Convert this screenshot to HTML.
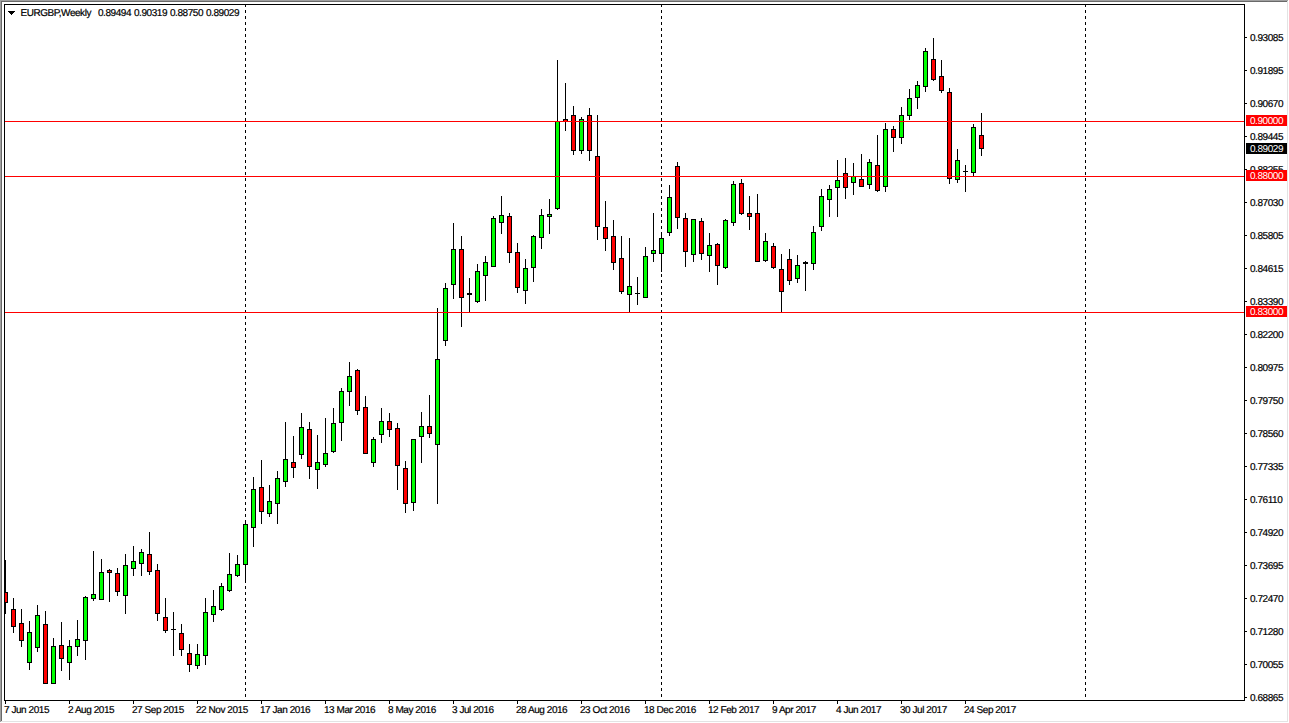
<!DOCTYPE html>
<html><head><meta charset="utf-8"><style>
html,body{margin:0;padding:0;background:#fff;}
body{width:1289px;height:723px;overflow:hidden;}
svg{display:block;}
text{font-family:"Liberation Sans",sans-serif;font-size:10px;fill:#000;letter-spacing:-0.45px;text-rendering:geometricPrecision;stroke:#000;stroke-width:0.2px;}
</style></head><body>
<svg width="1289" height="723" viewBox="0 0 1289 723">
<rect x="0" y="0" width="1289" height="723" fill="#fff"/>
<g shape-rendering="crispEdges">
<rect x="0" y="0" width="1288" height="1" fill="#a0a0a0"/>
<rect x="0" y="0" width="1" height="722" fill="#a0a0a0"/>
<rect x="1" y="1" width="1286" height="1" fill="#696969"/>
<rect x="1" y="1" width="1" height="720" fill="#696969"/>
<rect x="1" y="721" width="1287" height="1" fill="#e3e3e3"/>
<rect x="1287" y="1" width="1" height="721" fill="#e3e3e3"/>
<rect x="4" y="4" width="1241" height="1" fill="#000"/>
<rect x="4" y="4" width="1" height="697" fill="#000"/>
<rect x="4" y="700" width="1241" height="1" fill="#000"/>
<rect x="1244" y="4" width="1" height="697" fill="#000"/>
<rect x="245" y="5" width="1" height="2" fill="#000"/>
<rect x="245" y="10" width="1" height="3" fill="#000"/>
<rect x="245" y="16" width="1" height="3" fill="#000"/>
<rect x="245" y="22" width="1" height="3" fill="#000"/>
<rect x="245" y="28" width="1" height="3" fill="#000"/>
<rect x="245" y="34" width="1" height="3" fill="#000"/>
<rect x="245" y="40" width="1" height="3" fill="#000"/>
<rect x="245" y="46" width="1" height="3" fill="#000"/>
<rect x="245" y="52" width="1" height="3" fill="#000"/>
<rect x="245" y="58" width="1" height="3" fill="#000"/>
<rect x="245" y="64" width="1" height="3" fill="#000"/>
<rect x="245" y="70" width="1" height="3" fill="#000"/>
<rect x="245" y="76" width="1" height="3" fill="#000"/>
<rect x="245" y="82" width="1" height="3" fill="#000"/>
<rect x="245" y="88" width="1" height="3" fill="#000"/>
<rect x="245" y="94" width="1" height="3" fill="#000"/>
<rect x="245" y="100" width="1" height="3" fill="#000"/>
<rect x="245" y="106" width="1" height="3" fill="#000"/>
<rect x="245" y="112" width="1" height="3" fill="#000"/>
<rect x="245" y="118" width="1" height="3" fill="#000"/>
<rect x="245" y="124" width="1" height="3" fill="#000"/>
<rect x="245" y="130" width="1" height="3" fill="#000"/>
<rect x="245" y="136" width="1" height="3" fill="#000"/>
<rect x="245" y="142" width="1" height="3" fill="#000"/>
<rect x="245" y="148" width="1" height="3" fill="#000"/>
<rect x="245" y="154" width="1" height="3" fill="#000"/>
<rect x="245" y="160" width="1" height="3" fill="#000"/>
<rect x="245" y="166" width="1" height="3" fill="#000"/>
<rect x="245" y="172" width="1" height="3" fill="#000"/>
<rect x="245" y="178" width="1" height="3" fill="#000"/>
<rect x="245" y="184" width="1" height="3" fill="#000"/>
<rect x="245" y="190" width="1" height="3" fill="#000"/>
<rect x="245" y="196" width="1" height="3" fill="#000"/>
<rect x="245" y="202" width="1" height="3" fill="#000"/>
<rect x="245" y="208" width="1" height="3" fill="#000"/>
<rect x="245" y="214" width="1" height="3" fill="#000"/>
<rect x="245" y="220" width="1" height="3" fill="#000"/>
<rect x="245" y="226" width="1" height="3" fill="#000"/>
<rect x="245" y="232" width="1" height="3" fill="#000"/>
<rect x="245" y="238" width="1" height="3" fill="#000"/>
<rect x="245" y="244" width="1" height="3" fill="#000"/>
<rect x="245" y="250" width="1" height="3" fill="#000"/>
<rect x="245" y="256" width="1" height="3" fill="#000"/>
<rect x="245" y="262" width="1" height="3" fill="#000"/>
<rect x="245" y="268" width="1" height="3" fill="#000"/>
<rect x="245" y="274" width="1" height="3" fill="#000"/>
<rect x="245" y="280" width="1" height="3" fill="#000"/>
<rect x="245" y="286" width="1" height="3" fill="#000"/>
<rect x="245" y="292" width="1" height="3" fill="#000"/>
<rect x="245" y="298" width="1" height="3" fill="#000"/>
<rect x="245" y="304" width="1" height="3" fill="#000"/>
<rect x="245" y="310" width="1" height="3" fill="#000"/>
<rect x="245" y="316" width="1" height="3" fill="#000"/>
<rect x="245" y="322" width="1" height="3" fill="#000"/>
<rect x="245" y="328" width="1" height="3" fill="#000"/>
<rect x="245" y="334" width="1" height="3" fill="#000"/>
<rect x="245" y="340" width="1" height="3" fill="#000"/>
<rect x="245" y="346" width="1" height="3" fill="#000"/>
<rect x="245" y="352" width="1" height="3" fill="#000"/>
<rect x="245" y="358" width="1" height="3" fill="#000"/>
<rect x="245" y="364" width="1" height="3" fill="#000"/>
<rect x="245" y="370" width="1" height="3" fill="#000"/>
<rect x="245" y="376" width="1" height="3" fill="#000"/>
<rect x="245" y="382" width="1" height="3" fill="#000"/>
<rect x="245" y="388" width="1" height="3" fill="#000"/>
<rect x="245" y="394" width="1" height="3" fill="#000"/>
<rect x="245" y="400" width="1" height="3" fill="#000"/>
<rect x="245" y="406" width="1" height="3" fill="#000"/>
<rect x="245" y="412" width="1" height="3" fill="#000"/>
<rect x="245" y="418" width="1" height="3" fill="#000"/>
<rect x="245" y="424" width="1" height="3" fill="#000"/>
<rect x="245" y="430" width="1" height="3" fill="#000"/>
<rect x="245" y="436" width="1" height="3" fill="#000"/>
<rect x="245" y="442" width="1" height="3" fill="#000"/>
<rect x="245" y="448" width="1" height="3" fill="#000"/>
<rect x="245" y="454" width="1" height="3" fill="#000"/>
<rect x="245" y="460" width="1" height="3" fill="#000"/>
<rect x="245" y="466" width="1" height="3" fill="#000"/>
<rect x="245" y="472" width="1" height="3" fill="#000"/>
<rect x="245" y="478" width="1" height="3" fill="#000"/>
<rect x="245" y="484" width="1" height="3" fill="#000"/>
<rect x="245" y="490" width="1" height="3" fill="#000"/>
<rect x="245" y="496" width="1" height="3" fill="#000"/>
<rect x="245" y="502" width="1" height="3" fill="#000"/>
<rect x="245" y="508" width="1" height="3" fill="#000"/>
<rect x="245" y="514" width="1" height="3" fill="#000"/>
<rect x="245" y="520" width="1" height="3" fill="#000"/>
<rect x="245" y="526" width="1" height="3" fill="#000"/>
<rect x="245" y="532" width="1" height="3" fill="#000"/>
<rect x="245" y="538" width="1" height="3" fill="#000"/>
<rect x="245" y="544" width="1" height="3" fill="#000"/>
<rect x="245" y="550" width="1" height="3" fill="#000"/>
<rect x="245" y="556" width="1" height="3" fill="#000"/>
<rect x="245" y="562" width="1" height="3" fill="#000"/>
<rect x="245" y="568" width="1" height="3" fill="#000"/>
<rect x="245" y="574" width="1" height="3" fill="#000"/>
<rect x="245" y="580" width="1" height="3" fill="#000"/>
<rect x="245" y="586" width="1" height="3" fill="#000"/>
<rect x="245" y="592" width="1" height="3" fill="#000"/>
<rect x="245" y="598" width="1" height="3" fill="#000"/>
<rect x="245" y="604" width="1" height="3" fill="#000"/>
<rect x="245" y="610" width="1" height="3" fill="#000"/>
<rect x="245" y="616" width="1" height="3" fill="#000"/>
<rect x="245" y="622" width="1" height="3" fill="#000"/>
<rect x="245" y="628" width="1" height="3" fill="#000"/>
<rect x="245" y="634" width="1" height="3" fill="#000"/>
<rect x="245" y="640" width="1" height="3" fill="#000"/>
<rect x="245" y="646" width="1" height="3" fill="#000"/>
<rect x="245" y="652" width="1" height="3" fill="#000"/>
<rect x="245" y="658" width="1" height="3" fill="#000"/>
<rect x="245" y="664" width="1" height="3" fill="#000"/>
<rect x="245" y="670" width="1" height="3" fill="#000"/>
<rect x="245" y="676" width="1" height="3" fill="#000"/>
<rect x="245" y="682" width="1" height="3" fill="#000"/>
<rect x="245" y="688" width="1" height="3" fill="#000"/>
<rect x="245" y="694" width="1" height="3" fill="#000"/>
<rect x="661" y="5" width="1" height="2" fill="#000"/>
<rect x="661" y="10" width="1" height="3" fill="#000"/>
<rect x="661" y="16" width="1" height="3" fill="#000"/>
<rect x="661" y="22" width="1" height="3" fill="#000"/>
<rect x="661" y="28" width="1" height="3" fill="#000"/>
<rect x="661" y="34" width="1" height="3" fill="#000"/>
<rect x="661" y="40" width="1" height="3" fill="#000"/>
<rect x="661" y="46" width="1" height="3" fill="#000"/>
<rect x="661" y="52" width="1" height="3" fill="#000"/>
<rect x="661" y="58" width="1" height="3" fill="#000"/>
<rect x="661" y="64" width="1" height="3" fill="#000"/>
<rect x="661" y="70" width="1" height="3" fill="#000"/>
<rect x="661" y="76" width="1" height="3" fill="#000"/>
<rect x="661" y="82" width="1" height="3" fill="#000"/>
<rect x="661" y="88" width="1" height="3" fill="#000"/>
<rect x="661" y="94" width="1" height="3" fill="#000"/>
<rect x="661" y="100" width="1" height="3" fill="#000"/>
<rect x="661" y="106" width="1" height="3" fill="#000"/>
<rect x="661" y="112" width="1" height="3" fill="#000"/>
<rect x="661" y="118" width="1" height="3" fill="#000"/>
<rect x="661" y="124" width="1" height="3" fill="#000"/>
<rect x="661" y="130" width="1" height="3" fill="#000"/>
<rect x="661" y="136" width="1" height="3" fill="#000"/>
<rect x="661" y="142" width="1" height="3" fill="#000"/>
<rect x="661" y="148" width="1" height="3" fill="#000"/>
<rect x="661" y="154" width="1" height="3" fill="#000"/>
<rect x="661" y="160" width="1" height="3" fill="#000"/>
<rect x="661" y="166" width="1" height="3" fill="#000"/>
<rect x="661" y="172" width="1" height="3" fill="#000"/>
<rect x="661" y="178" width="1" height="3" fill="#000"/>
<rect x="661" y="184" width="1" height="3" fill="#000"/>
<rect x="661" y="190" width="1" height="3" fill="#000"/>
<rect x="661" y="196" width="1" height="3" fill="#000"/>
<rect x="661" y="202" width="1" height="3" fill="#000"/>
<rect x="661" y="208" width="1" height="3" fill="#000"/>
<rect x="661" y="214" width="1" height="3" fill="#000"/>
<rect x="661" y="220" width="1" height="3" fill="#000"/>
<rect x="661" y="226" width="1" height="3" fill="#000"/>
<rect x="661" y="232" width="1" height="3" fill="#000"/>
<rect x="661" y="238" width="1" height="3" fill="#000"/>
<rect x="661" y="244" width="1" height="3" fill="#000"/>
<rect x="661" y="250" width="1" height="3" fill="#000"/>
<rect x="661" y="256" width="1" height="3" fill="#000"/>
<rect x="661" y="262" width="1" height="3" fill="#000"/>
<rect x="661" y="268" width="1" height="3" fill="#000"/>
<rect x="661" y="274" width="1" height="3" fill="#000"/>
<rect x="661" y="280" width="1" height="3" fill="#000"/>
<rect x="661" y="286" width="1" height="3" fill="#000"/>
<rect x="661" y="292" width="1" height="3" fill="#000"/>
<rect x="661" y="298" width="1" height="3" fill="#000"/>
<rect x="661" y="304" width="1" height="3" fill="#000"/>
<rect x="661" y="310" width="1" height="3" fill="#000"/>
<rect x="661" y="316" width="1" height="3" fill="#000"/>
<rect x="661" y="322" width="1" height="3" fill="#000"/>
<rect x="661" y="328" width="1" height="3" fill="#000"/>
<rect x="661" y="334" width="1" height="3" fill="#000"/>
<rect x="661" y="340" width="1" height="3" fill="#000"/>
<rect x="661" y="346" width="1" height="3" fill="#000"/>
<rect x="661" y="352" width="1" height="3" fill="#000"/>
<rect x="661" y="358" width="1" height="3" fill="#000"/>
<rect x="661" y="364" width="1" height="3" fill="#000"/>
<rect x="661" y="370" width="1" height="3" fill="#000"/>
<rect x="661" y="376" width="1" height="3" fill="#000"/>
<rect x="661" y="382" width="1" height="3" fill="#000"/>
<rect x="661" y="388" width="1" height="3" fill="#000"/>
<rect x="661" y="394" width="1" height="3" fill="#000"/>
<rect x="661" y="400" width="1" height="3" fill="#000"/>
<rect x="661" y="406" width="1" height="3" fill="#000"/>
<rect x="661" y="412" width="1" height="3" fill="#000"/>
<rect x="661" y="418" width="1" height="3" fill="#000"/>
<rect x="661" y="424" width="1" height="3" fill="#000"/>
<rect x="661" y="430" width="1" height="3" fill="#000"/>
<rect x="661" y="436" width="1" height="3" fill="#000"/>
<rect x="661" y="442" width="1" height="3" fill="#000"/>
<rect x="661" y="448" width="1" height="3" fill="#000"/>
<rect x="661" y="454" width="1" height="3" fill="#000"/>
<rect x="661" y="460" width="1" height="3" fill="#000"/>
<rect x="661" y="466" width="1" height="3" fill="#000"/>
<rect x="661" y="472" width="1" height="3" fill="#000"/>
<rect x="661" y="478" width="1" height="3" fill="#000"/>
<rect x="661" y="484" width="1" height="3" fill="#000"/>
<rect x="661" y="490" width="1" height="3" fill="#000"/>
<rect x="661" y="496" width="1" height="3" fill="#000"/>
<rect x="661" y="502" width="1" height="3" fill="#000"/>
<rect x="661" y="508" width="1" height="3" fill="#000"/>
<rect x="661" y="514" width="1" height="3" fill="#000"/>
<rect x="661" y="520" width="1" height="3" fill="#000"/>
<rect x="661" y="526" width="1" height="3" fill="#000"/>
<rect x="661" y="532" width="1" height="3" fill="#000"/>
<rect x="661" y="538" width="1" height="3" fill="#000"/>
<rect x="661" y="544" width="1" height="3" fill="#000"/>
<rect x="661" y="550" width="1" height="3" fill="#000"/>
<rect x="661" y="556" width="1" height="3" fill="#000"/>
<rect x="661" y="562" width="1" height="3" fill="#000"/>
<rect x="661" y="568" width="1" height="3" fill="#000"/>
<rect x="661" y="574" width="1" height="3" fill="#000"/>
<rect x="661" y="580" width="1" height="3" fill="#000"/>
<rect x="661" y="586" width="1" height="3" fill="#000"/>
<rect x="661" y="592" width="1" height="3" fill="#000"/>
<rect x="661" y="598" width="1" height="3" fill="#000"/>
<rect x="661" y="604" width="1" height="3" fill="#000"/>
<rect x="661" y="610" width="1" height="3" fill="#000"/>
<rect x="661" y="616" width="1" height="3" fill="#000"/>
<rect x="661" y="622" width="1" height="3" fill="#000"/>
<rect x="661" y="628" width="1" height="3" fill="#000"/>
<rect x="661" y="634" width="1" height="3" fill="#000"/>
<rect x="661" y="640" width="1" height="3" fill="#000"/>
<rect x="661" y="646" width="1" height="3" fill="#000"/>
<rect x="661" y="652" width="1" height="3" fill="#000"/>
<rect x="661" y="658" width="1" height="3" fill="#000"/>
<rect x="661" y="664" width="1" height="3" fill="#000"/>
<rect x="661" y="670" width="1" height="3" fill="#000"/>
<rect x="661" y="676" width="1" height="3" fill="#000"/>
<rect x="661" y="682" width="1" height="3" fill="#000"/>
<rect x="661" y="688" width="1" height="3" fill="#000"/>
<rect x="661" y="694" width="1" height="3" fill="#000"/>
<rect x="1085" y="5" width="1" height="2" fill="#000"/>
<rect x="1085" y="10" width="1" height="3" fill="#000"/>
<rect x="1085" y="16" width="1" height="3" fill="#000"/>
<rect x="1085" y="22" width="1" height="3" fill="#000"/>
<rect x="1085" y="28" width="1" height="3" fill="#000"/>
<rect x="1085" y="34" width="1" height="3" fill="#000"/>
<rect x="1085" y="40" width="1" height="3" fill="#000"/>
<rect x="1085" y="46" width="1" height="3" fill="#000"/>
<rect x="1085" y="52" width="1" height="3" fill="#000"/>
<rect x="1085" y="58" width="1" height="3" fill="#000"/>
<rect x="1085" y="64" width="1" height="3" fill="#000"/>
<rect x="1085" y="70" width="1" height="3" fill="#000"/>
<rect x="1085" y="76" width="1" height="3" fill="#000"/>
<rect x="1085" y="82" width="1" height="3" fill="#000"/>
<rect x="1085" y="88" width="1" height="3" fill="#000"/>
<rect x="1085" y="94" width="1" height="3" fill="#000"/>
<rect x="1085" y="100" width="1" height="3" fill="#000"/>
<rect x="1085" y="106" width="1" height="3" fill="#000"/>
<rect x="1085" y="112" width="1" height="3" fill="#000"/>
<rect x="1085" y="118" width="1" height="3" fill="#000"/>
<rect x="1085" y="124" width="1" height="3" fill="#000"/>
<rect x="1085" y="130" width="1" height="3" fill="#000"/>
<rect x="1085" y="136" width="1" height="3" fill="#000"/>
<rect x="1085" y="142" width="1" height="3" fill="#000"/>
<rect x="1085" y="148" width="1" height="3" fill="#000"/>
<rect x="1085" y="154" width="1" height="3" fill="#000"/>
<rect x="1085" y="160" width="1" height="3" fill="#000"/>
<rect x="1085" y="166" width="1" height="3" fill="#000"/>
<rect x="1085" y="172" width="1" height="3" fill="#000"/>
<rect x="1085" y="178" width="1" height="3" fill="#000"/>
<rect x="1085" y="184" width="1" height="3" fill="#000"/>
<rect x="1085" y="190" width="1" height="3" fill="#000"/>
<rect x="1085" y="196" width="1" height="3" fill="#000"/>
<rect x="1085" y="202" width="1" height="3" fill="#000"/>
<rect x="1085" y="208" width="1" height="3" fill="#000"/>
<rect x="1085" y="214" width="1" height="3" fill="#000"/>
<rect x="1085" y="220" width="1" height="3" fill="#000"/>
<rect x="1085" y="226" width="1" height="3" fill="#000"/>
<rect x="1085" y="232" width="1" height="3" fill="#000"/>
<rect x="1085" y="238" width="1" height="3" fill="#000"/>
<rect x="1085" y="244" width="1" height="3" fill="#000"/>
<rect x="1085" y="250" width="1" height="3" fill="#000"/>
<rect x="1085" y="256" width="1" height="3" fill="#000"/>
<rect x="1085" y="262" width="1" height="3" fill="#000"/>
<rect x="1085" y="268" width="1" height="3" fill="#000"/>
<rect x="1085" y="274" width="1" height="3" fill="#000"/>
<rect x="1085" y="280" width="1" height="3" fill="#000"/>
<rect x="1085" y="286" width="1" height="3" fill="#000"/>
<rect x="1085" y="292" width="1" height="3" fill="#000"/>
<rect x="1085" y="298" width="1" height="3" fill="#000"/>
<rect x="1085" y="304" width="1" height="3" fill="#000"/>
<rect x="1085" y="310" width="1" height="3" fill="#000"/>
<rect x="1085" y="316" width="1" height="3" fill="#000"/>
<rect x="1085" y="322" width="1" height="3" fill="#000"/>
<rect x="1085" y="328" width="1" height="3" fill="#000"/>
<rect x="1085" y="334" width="1" height="3" fill="#000"/>
<rect x="1085" y="340" width="1" height="3" fill="#000"/>
<rect x="1085" y="346" width="1" height="3" fill="#000"/>
<rect x="1085" y="352" width="1" height="3" fill="#000"/>
<rect x="1085" y="358" width="1" height="3" fill="#000"/>
<rect x="1085" y="364" width="1" height="3" fill="#000"/>
<rect x="1085" y="370" width="1" height="3" fill="#000"/>
<rect x="1085" y="376" width="1" height="3" fill="#000"/>
<rect x="1085" y="382" width="1" height="3" fill="#000"/>
<rect x="1085" y="388" width="1" height="3" fill="#000"/>
<rect x="1085" y="394" width="1" height="3" fill="#000"/>
<rect x="1085" y="400" width="1" height="3" fill="#000"/>
<rect x="1085" y="406" width="1" height="3" fill="#000"/>
<rect x="1085" y="412" width="1" height="3" fill="#000"/>
<rect x="1085" y="418" width="1" height="3" fill="#000"/>
<rect x="1085" y="424" width="1" height="3" fill="#000"/>
<rect x="1085" y="430" width="1" height="3" fill="#000"/>
<rect x="1085" y="436" width="1" height="3" fill="#000"/>
<rect x="1085" y="442" width="1" height="3" fill="#000"/>
<rect x="1085" y="448" width="1" height="3" fill="#000"/>
<rect x="1085" y="454" width="1" height="3" fill="#000"/>
<rect x="1085" y="460" width="1" height="3" fill="#000"/>
<rect x="1085" y="466" width="1" height="3" fill="#000"/>
<rect x="1085" y="472" width="1" height="3" fill="#000"/>
<rect x="1085" y="478" width="1" height="3" fill="#000"/>
<rect x="1085" y="484" width="1" height="3" fill="#000"/>
<rect x="1085" y="490" width="1" height="3" fill="#000"/>
<rect x="1085" y="496" width="1" height="3" fill="#000"/>
<rect x="1085" y="502" width="1" height="3" fill="#000"/>
<rect x="1085" y="508" width="1" height="3" fill="#000"/>
<rect x="1085" y="514" width="1" height="3" fill="#000"/>
<rect x="1085" y="520" width="1" height="3" fill="#000"/>
<rect x="1085" y="526" width="1" height="3" fill="#000"/>
<rect x="1085" y="532" width="1" height="3" fill="#000"/>
<rect x="1085" y="538" width="1" height="3" fill="#000"/>
<rect x="1085" y="544" width="1" height="3" fill="#000"/>
<rect x="1085" y="550" width="1" height="3" fill="#000"/>
<rect x="1085" y="556" width="1" height="3" fill="#000"/>
<rect x="1085" y="562" width="1" height="3" fill="#000"/>
<rect x="1085" y="568" width="1" height="3" fill="#000"/>
<rect x="1085" y="574" width="1" height="3" fill="#000"/>
<rect x="1085" y="580" width="1" height="3" fill="#000"/>
<rect x="1085" y="586" width="1" height="3" fill="#000"/>
<rect x="1085" y="592" width="1" height="3" fill="#000"/>
<rect x="1085" y="598" width="1" height="3" fill="#000"/>
<rect x="1085" y="604" width="1" height="3" fill="#000"/>
<rect x="1085" y="610" width="1" height="3" fill="#000"/>
<rect x="1085" y="616" width="1" height="3" fill="#000"/>
<rect x="1085" y="622" width="1" height="3" fill="#000"/>
<rect x="1085" y="628" width="1" height="3" fill="#000"/>
<rect x="1085" y="634" width="1" height="3" fill="#000"/>
<rect x="1085" y="640" width="1" height="3" fill="#000"/>
<rect x="1085" y="646" width="1" height="3" fill="#000"/>
<rect x="1085" y="652" width="1" height="3" fill="#000"/>
<rect x="1085" y="658" width="1" height="3" fill="#000"/>
<rect x="1085" y="664" width="1" height="3" fill="#000"/>
<rect x="1085" y="670" width="1" height="3" fill="#000"/>
<rect x="1085" y="676" width="1" height="3" fill="#000"/>
<rect x="1085" y="682" width="1" height="3" fill="#000"/>
<rect x="1085" y="688" width="1" height="3" fill="#000"/>
<rect x="1085" y="694" width="1" height="3" fill="#000"/>
<rect x="5" y="560" width="1" height="54" fill="#000"/>
<rect x="5" y="592" width="3" height="11" fill="#000"/>
<rect x="5" y="593" width="2" height="9" fill="#ff0000"/>
<rect x="13" y="598" width="1" height="35" fill="#000"/>
<rect x="11" y="609" width="5" height="18" fill="#000"/>
<rect x="12" y="610" width="3" height="16" fill="#ff0000"/>
<rect x="21" y="609" width="1" height="38" fill="#000"/>
<rect x="19" y="623" width="5" height="18" fill="#000"/>
<rect x="20" y="624" width="3" height="16" fill="#ff0000"/>
<rect x="29" y="621" width="1" height="49" fill="#000"/>
<rect x="27" y="632" width="5" height="31" fill="#000"/>
<rect x="28" y="633" width="3" height="29" fill="#00ff00"/>
<rect x="37" y="605" width="1" height="47" fill="#000"/>
<rect x="35" y="615" width="5" height="33" fill="#000"/>
<rect x="36" y="616" width="3" height="31" fill="#00ff00"/>
<rect x="45" y="611" width="1" height="73" fill="#000"/>
<rect x="43" y="624" width="5" height="60" fill="#000"/>
<rect x="44" y="625" width="3" height="58" fill="#ff0000"/>
<rect x="53" y="638" width="1" height="46" fill="#000"/>
<rect x="51" y="646" width="5" height="38" fill="#000"/>
<rect x="52" y="647" width="3" height="36" fill="#00ff00"/>
<rect x="61" y="622" width="1" height="49" fill="#000"/>
<rect x="59" y="645" width="5" height="14" fill="#000"/>
<rect x="60" y="646" width="3" height="12" fill="#ff0000"/>
<rect x="69" y="640" width="1" height="40" fill="#000"/>
<rect x="67" y="646" width="5" height="17" fill="#000"/>
<rect x="68" y="647" width="3" height="15" fill="#00ff00"/>
<rect x="77" y="620" width="1" height="36" fill="#000"/>
<rect x="75" y="639" width="5" height="8" fill="#000"/>
<rect x="76" y="640" width="3" height="6" fill="#00ff00"/>
<rect x="85" y="596" width="1" height="64" fill="#000"/>
<rect x="83" y="597" width="5" height="44" fill="#000"/>
<rect x="84" y="598" width="3" height="42" fill="#00ff00"/>
<rect x="93" y="551" width="1" height="50" fill="#000"/>
<rect x="91" y="594" width="5" height="5" fill="#000"/>
<rect x="92" y="595" width="3" height="3" fill="#00ff00"/>
<rect x="101" y="559" width="1" height="41" fill="#000"/>
<rect x="99" y="572" width="5" height="28" fill="#000"/>
<rect x="100" y="573" width="3" height="26" fill="#00ff00"/>
<rect x="109" y="569" width="1" height="33" fill="#000"/>
<rect x="107" y="570" width="5" height="3" fill="#000"/>
<rect x="108" y="571" width="3" height="1" fill="#ff0000"/>
<rect x="117" y="568" width="1" height="28" fill="#000"/>
<rect x="115" y="573" width="5" height="19" fill="#000"/>
<rect x="116" y="574" width="3" height="17" fill="#ff0000"/>
<rect x="125" y="554" width="1" height="60" fill="#000"/>
<rect x="123" y="565" width="5" height="31" fill="#000"/>
<rect x="124" y="566" width="3" height="29" fill="#00ff00"/>
<rect x="133" y="546" width="1" height="30" fill="#000"/>
<rect x="131" y="561" width="5" height="8" fill="#000"/>
<rect x="132" y="562" width="3" height="6" fill="#00ff00"/>
<rect x="141" y="549" width="1" height="27" fill="#000"/>
<rect x="139" y="552" width="5" height="12" fill="#000"/>
<rect x="140" y="553" width="3" height="10" fill="#00ff00"/>
<rect x="149" y="532" width="1" height="43" fill="#000"/>
<rect x="147" y="554" width="5" height="18" fill="#000"/>
<rect x="148" y="555" width="3" height="16" fill="#ff0000"/>
<rect x="157" y="564" width="1" height="57" fill="#000"/>
<rect x="155" y="570" width="5" height="44" fill="#000"/>
<rect x="156" y="571" width="3" height="42" fill="#ff0000"/>
<rect x="165" y="598" width="1" height="35" fill="#000"/>
<rect x="163" y="617" width="5" height="14" fill="#000"/>
<rect x="164" y="618" width="3" height="12" fill="#ff0000"/>
<rect x="173" y="612" width="1" height="44" fill="#000"/>
<rect x="171" y="629" width="5" height="1" fill="#000"/>
<rect x="181" y="624" width="1" height="32" fill="#000"/>
<rect x="179" y="633" width="5" height="17" fill="#000"/>
<rect x="180" y="634" width="3" height="15" fill="#ff0000"/>
<rect x="189" y="644" width="1" height="28" fill="#000"/>
<rect x="187" y="653" width="5" height="12" fill="#000"/>
<rect x="188" y="654" width="3" height="10" fill="#ff0000"/>
<rect x="197" y="644" width="1" height="25" fill="#000"/>
<rect x="195" y="654" width="5" height="12" fill="#000"/>
<rect x="196" y="655" width="3" height="10" fill="#00ff00"/>
<rect x="205" y="598" width="1" height="67" fill="#000"/>
<rect x="203" y="612" width="5" height="44" fill="#000"/>
<rect x="204" y="613" width="3" height="42" fill="#00ff00"/>
<rect x="213" y="590" width="1" height="32" fill="#000"/>
<rect x="211" y="606" width="5" height="9" fill="#000"/>
<rect x="212" y="607" width="3" height="7" fill="#00ff00"/>
<rect x="221" y="583" width="1" height="28" fill="#000"/>
<rect x="219" y="586" width="5" height="24" fill="#000"/>
<rect x="220" y="587" width="3" height="22" fill="#00ff00"/>
<rect x="229" y="553" width="1" height="39" fill="#000"/>
<rect x="227" y="574" width="5" height="17" fill="#000"/>
<rect x="228" y="575" width="3" height="15" fill="#00ff00"/>
<rect x="237" y="555" width="1" height="22" fill="#000"/>
<rect x="235" y="564" width="5" height="12" fill="#000"/>
<rect x="236" y="565" width="3" height="10" fill="#00ff00"/>
<rect x="245" y="520" width="1" height="63" fill="#000"/>
<rect x="243" y="524" width="5" height="41" fill="#000"/>
<rect x="244" y="525" width="3" height="39" fill="#00ff00"/>
<rect x="253" y="477" width="1" height="70" fill="#000"/>
<rect x="251" y="489" width="5" height="39" fill="#000"/>
<rect x="252" y="490" width="3" height="37" fill="#00ff00"/>
<rect x="261" y="460" width="1" height="64" fill="#000"/>
<rect x="259" y="487" width="5" height="25" fill="#000"/>
<rect x="260" y="488" width="3" height="23" fill="#ff0000"/>
<rect x="269" y="485" width="1" height="32" fill="#000"/>
<rect x="267" y="501" width="5" height="13" fill="#000"/>
<rect x="268" y="502" width="3" height="11" fill="#00ff00"/>
<rect x="277" y="471" width="1" height="53" fill="#000"/>
<rect x="275" y="478" width="5" height="26" fill="#000"/>
<rect x="276" y="479" width="3" height="24" fill="#00ff00"/>
<rect x="285" y="422" width="1" height="65" fill="#000"/>
<rect x="283" y="459" width="5" height="23" fill="#000"/>
<rect x="284" y="460" width="3" height="21" fill="#00ff00"/>
<rect x="293" y="436" width="1" height="42" fill="#000"/>
<rect x="291" y="462" width="5" height="6" fill="#000"/>
<rect x="292" y="463" width="3" height="4" fill="#ff0000"/>
<rect x="301" y="413" width="1" height="46" fill="#000"/>
<rect x="299" y="427" width="5" height="28" fill="#000"/>
<rect x="300" y="428" width="3" height="26" fill="#00ff00"/>
<rect x="309" y="422" width="1" height="57" fill="#000"/>
<rect x="307" y="429" width="5" height="38" fill="#000"/>
<rect x="308" y="430" width="3" height="36" fill="#ff0000"/>
<rect x="317" y="435" width="1" height="54" fill="#000"/>
<rect x="315" y="462" width="5" height="8" fill="#000"/>
<rect x="316" y="463" width="3" height="6" fill="#00ff00"/>
<rect x="325" y="418" width="1" height="49" fill="#000"/>
<rect x="323" y="453" width="5" height="12" fill="#000"/>
<rect x="324" y="454" width="3" height="10" fill="#00ff00"/>
<rect x="333" y="408" width="1" height="45" fill="#000"/>
<rect x="331" y="423" width="5" height="29" fill="#000"/>
<rect x="332" y="424" width="3" height="27" fill="#00ff00"/>
<rect x="341" y="388" width="1" height="53" fill="#000"/>
<rect x="339" y="391" width="5" height="32" fill="#000"/>
<rect x="340" y="392" width="3" height="30" fill="#00ff00"/>
<rect x="349" y="362" width="1" height="44" fill="#000"/>
<rect x="347" y="376" width="5" height="16" fill="#000"/>
<rect x="348" y="377" width="3" height="14" fill="#00ff00"/>
<rect x="357" y="369" width="1" height="46" fill="#000"/>
<rect x="355" y="370" width="5" height="41" fill="#000"/>
<rect x="356" y="371" width="3" height="39" fill="#ff0000"/>
<rect x="365" y="396" width="1" height="58" fill="#000"/>
<rect x="363" y="407" width="5" height="47" fill="#000"/>
<rect x="364" y="408" width="3" height="45" fill="#ff0000"/>
<rect x="373" y="437" width="1" height="30" fill="#000"/>
<rect x="371" y="439" width="5" height="24" fill="#000"/>
<rect x="372" y="440" width="3" height="22" fill="#00ff00"/>
<rect x="381" y="408" width="1" height="35" fill="#000"/>
<rect x="379" y="421" width="5" height="14" fill="#000"/>
<rect x="380" y="422" width="3" height="12" fill="#00ff00"/>
<rect x="389" y="413" width="1" height="24" fill="#000"/>
<rect x="387" y="421" width="5" height="9" fill="#000"/>
<rect x="388" y="422" width="3" height="7" fill="#ff0000"/>
<rect x="397" y="423" width="1" height="67" fill="#000"/>
<rect x="395" y="428" width="5" height="38" fill="#000"/>
<rect x="396" y="429" width="3" height="36" fill="#ff0000"/>
<rect x="405" y="461" width="1" height="52" fill="#000"/>
<rect x="403" y="468" width="5" height="36" fill="#000"/>
<rect x="404" y="469" width="3" height="34" fill="#ff0000"/>
<rect x="413" y="439" width="1" height="72" fill="#000"/>
<rect x="411" y="439" width="5" height="64" fill="#000"/>
<rect x="412" y="440" width="3" height="62" fill="#00ff00"/>
<rect x="421" y="412" width="1" height="51" fill="#000"/>
<rect x="419" y="426" width="5" height="11" fill="#000"/>
<rect x="420" y="427" width="3" height="9" fill="#00ff00"/>
<rect x="429" y="395" width="1" height="43" fill="#000"/>
<rect x="427" y="426" width="5" height="8" fill="#000"/>
<rect x="428" y="427" width="3" height="6" fill="#ff0000"/>
<rect x="437" y="308" width="1" height="196" fill="#000"/>
<rect x="435" y="359" width="5" height="86" fill="#000"/>
<rect x="436" y="360" width="3" height="84" fill="#00ff00"/>
<rect x="445" y="283" width="1" height="63" fill="#000"/>
<rect x="443" y="288" width="5" height="53" fill="#000"/>
<rect x="444" y="289" width="3" height="51" fill="#00ff00"/>
<rect x="453" y="223" width="1" height="76" fill="#000"/>
<rect x="451" y="249" width="5" height="36" fill="#000"/>
<rect x="452" y="250" width="3" height="34" fill="#00ff00"/>
<rect x="461" y="236" width="1" height="91" fill="#000"/>
<rect x="459" y="249" width="5" height="49" fill="#000"/>
<rect x="460" y="250" width="3" height="47" fill="#ff0000"/>
<rect x="469" y="278" width="1" height="35" fill="#000"/>
<rect x="467" y="293" width="5" height="2" fill="#000"/>
<rect x="477" y="264" width="1" height="39" fill="#000"/>
<rect x="475" y="271" width="5" height="31" fill="#000"/>
<rect x="476" y="272" width="3" height="29" fill="#00ff00"/>
<rect x="485" y="256" width="1" height="45" fill="#000"/>
<rect x="483" y="262" width="5" height="14" fill="#000"/>
<rect x="484" y="263" width="3" height="12" fill="#00ff00"/>
<rect x="493" y="216" width="1" height="51" fill="#000"/>
<rect x="491" y="218" width="5" height="49" fill="#000"/>
<rect x="492" y="219" width="3" height="47" fill="#00ff00"/>
<rect x="501" y="196" width="1" height="38" fill="#000"/>
<rect x="499" y="215" width="5" height="8" fill="#000"/>
<rect x="500" y="216" width="3" height="6" fill="#00ff00"/>
<rect x="509" y="213" width="1" height="50" fill="#000"/>
<rect x="507" y="216" width="5" height="37" fill="#000"/>
<rect x="508" y="217" width="3" height="35" fill="#ff0000"/>
<rect x="517" y="243" width="1" height="50" fill="#000"/>
<rect x="515" y="252" width="5" height="36" fill="#000"/>
<rect x="516" y="253" width="3" height="34" fill="#ff0000"/>
<rect x="525" y="259" width="1" height="45" fill="#000"/>
<rect x="523" y="268" width="5" height="23" fill="#000"/>
<rect x="524" y="269" width="3" height="21" fill="#00ff00"/>
<rect x="533" y="235" width="1" height="47" fill="#000"/>
<rect x="531" y="236" width="5" height="32" fill="#000"/>
<rect x="532" y="237" width="3" height="30" fill="#00ff00"/>
<rect x="541" y="209" width="1" height="40" fill="#000"/>
<rect x="539" y="215" width="5" height="23" fill="#000"/>
<rect x="540" y="216" width="3" height="21" fill="#00ff00"/>
<rect x="549" y="199" width="1" height="35" fill="#000"/>
<rect x="547" y="214" width="5" height="3" fill="#000"/>
<rect x="548" y="215" width="3" height="1" fill="#00ff00"/>
<rect x="557" y="60" width="1" height="150" fill="#000"/>
<rect x="555" y="121" width="5" height="88" fill="#000"/>
<rect x="556" y="122" width="3" height="86" fill="#00ff00"/>
<rect x="565" y="83" width="1" height="48" fill="#000"/>
<rect x="563" y="119" width="5" height="3" fill="#000"/>
<rect x="564" y="120" width="3" height="1" fill="#ff0000"/>
<rect x="573" y="106" width="1" height="49" fill="#000"/>
<rect x="571" y="115" width="5" height="36" fill="#000"/>
<rect x="572" y="116" width="3" height="34" fill="#ff0000"/>
<rect x="581" y="117" width="1" height="37" fill="#000"/>
<rect x="579" y="119" width="5" height="32" fill="#000"/>
<rect x="580" y="120" width="3" height="30" fill="#00ff00"/>
<rect x="589" y="108" width="1" height="53" fill="#000"/>
<rect x="587" y="115" width="5" height="36" fill="#000"/>
<rect x="588" y="116" width="3" height="34" fill="#ff0000"/>
<rect x="597" y="115" width="1" height="125" fill="#000"/>
<rect x="595" y="156" width="5" height="71" fill="#000"/>
<rect x="596" y="157" width="3" height="69" fill="#ff0000"/>
<rect x="605" y="201" width="1" height="50" fill="#000"/>
<rect x="603" y="227" width="5" height="12" fill="#000"/>
<rect x="604" y="228" width="3" height="10" fill="#ff0000"/>
<rect x="613" y="220" width="1" height="50" fill="#000"/>
<rect x="611" y="236" width="5" height="27" fill="#000"/>
<rect x="612" y="237" width="3" height="25" fill="#ff0000"/>
<rect x="621" y="236" width="1" height="58" fill="#000"/>
<rect x="619" y="258" width="5" height="34" fill="#000"/>
<rect x="620" y="259" width="3" height="32" fill="#ff0000"/>
<rect x="629" y="238" width="1" height="75" fill="#000"/>
<rect x="627" y="286" width="5" height="9" fill="#000"/>
<rect x="628" y="287" width="3" height="7" fill="#00ff00"/>
<rect x="637" y="277" width="1" height="28" fill="#000"/>
<rect x="635" y="293" width="5" height="1" fill="#000"/>
<rect x="645" y="247" width="1" height="51" fill="#000"/>
<rect x="643" y="256" width="5" height="42" fill="#000"/>
<rect x="644" y="257" width="3" height="40" fill="#00ff00"/>
<rect x="653" y="213" width="1" height="49" fill="#000"/>
<rect x="651" y="250" width="5" height="4" fill="#000"/>
<rect x="652" y="251" width="3" height="2" fill="#00ff00"/>
<rect x="661" y="232" width="1" height="40" fill="#000"/>
<rect x="659" y="238" width="5" height="16" fill="#000"/>
<rect x="660" y="239" width="3" height="14" fill="#00ff00"/>
<rect x="669" y="185" width="1" height="51" fill="#000"/>
<rect x="667" y="197" width="5" height="36" fill="#000"/>
<rect x="668" y="198" width="3" height="34" fill="#00ff00"/>
<rect x="677" y="162" width="1" height="67" fill="#000"/>
<rect x="675" y="166" width="5" height="52" fill="#000"/>
<rect x="676" y="167" width="3" height="50" fill="#ff0000"/>
<rect x="685" y="213" width="1" height="54" fill="#000"/>
<rect x="683" y="218" width="5" height="34" fill="#000"/>
<rect x="684" y="219" width="3" height="32" fill="#ff0000"/>
<rect x="693" y="219" width="1" height="43" fill="#000"/>
<rect x="691" y="219" width="5" height="36" fill="#000"/>
<rect x="692" y="220" width="3" height="34" fill="#00ff00"/>
<rect x="701" y="218" width="1" height="42" fill="#000"/>
<rect x="699" y="221" width="5" height="33" fill="#000"/>
<rect x="700" y="222" width="3" height="31" fill="#ff0000"/>
<rect x="709" y="233" width="1" height="39" fill="#000"/>
<rect x="707" y="245" width="5" height="11" fill="#000"/>
<rect x="708" y="246" width="3" height="9" fill="#00ff00"/>
<rect x="717" y="243" width="1" height="42" fill="#000"/>
<rect x="715" y="244" width="5" height="22" fill="#000"/>
<rect x="716" y="245" width="3" height="20" fill="#ff0000"/>
<rect x="725" y="219" width="1" height="50" fill="#000"/>
<rect x="723" y="220" width="5" height="48" fill="#000"/>
<rect x="724" y="221" width="3" height="46" fill="#00ff00"/>
<rect x="733" y="181" width="1" height="45" fill="#000"/>
<rect x="731" y="184" width="5" height="39" fill="#000"/>
<rect x="732" y="185" width="3" height="37" fill="#00ff00"/>
<rect x="741" y="179" width="1" height="36" fill="#000"/>
<rect x="739" y="183" width="5" height="31" fill="#000"/>
<rect x="740" y="184" width="3" height="29" fill="#ff0000"/>
<rect x="749" y="196" width="1" height="34" fill="#000"/>
<rect x="747" y="213" width="5" height="4" fill="#000"/>
<rect x="748" y="214" width="3" height="2" fill="#ff0000"/>
<rect x="757" y="194" width="1" height="68" fill="#000"/>
<rect x="755" y="213" width="5" height="49" fill="#000"/>
<rect x="756" y="214" width="3" height="47" fill="#ff0000"/>
<rect x="765" y="233" width="1" height="29" fill="#000"/>
<rect x="763" y="241" width="5" height="20" fill="#000"/>
<rect x="764" y="242" width="3" height="18" fill="#00ff00"/>
<rect x="773" y="243" width="1" height="26" fill="#000"/>
<rect x="771" y="246" width="5" height="22" fill="#000"/>
<rect x="772" y="247" width="3" height="20" fill="#ff0000"/>
<rect x="781" y="254" width="1" height="59" fill="#000"/>
<rect x="779" y="269" width="5" height="23" fill="#000"/>
<rect x="780" y="270" width="3" height="21" fill="#ff0000"/>
<rect x="789" y="249" width="1" height="36" fill="#000"/>
<rect x="787" y="259" width="5" height="22" fill="#000"/>
<rect x="788" y="260" width="3" height="20" fill="#ff0000"/>
<rect x="797" y="255" width="1" height="28" fill="#000"/>
<rect x="795" y="265" width="5" height="14" fill="#000"/>
<rect x="796" y="266" width="3" height="12" fill="#00ff00"/>
<rect x="805" y="261" width="1" height="30" fill="#000"/>
<rect x="803" y="262" width="5" height="2" fill="#000"/>
<rect x="813" y="226" width="1" height="44" fill="#000"/>
<rect x="811" y="232" width="5" height="32" fill="#000"/>
<rect x="812" y="233" width="3" height="30" fill="#00ff00"/>
<rect x="821" y="189" width="1" height="42" fill="#000"/>
<rect x="819" y="196" width="5" height="31" fill="#000"/>
<rect x="820" y="197" width="3" height="29" fill="#00ff00"/>
<rect x="829" y="185" width="1" height="32" fill="#000"/>
<rect x="827" y="189" width="5" height="11" fill="#000"/>
<rect x="828" y="190" width="3" height="9" fill="#00ff00"/>
<rect x="837" y="160" width="1" height="57" fill="#000"/>
<rect x="835" y="180" width="5" height="8" fill="#000"/>
<rect x="836" y="181" width="3" height="6" fill="#00ff00"/>
<rect x="845" y="158" width="1" height="41" fill="#000"/>
<rect x="843" y="173" width="5" height="15" fill="#000"/>
<rect x="844" y="174" width="3" height="13" fill="#ff0000"/>
<rect x="853" y="163" width="1" height="32" fill="#000"/>
<rect x="851" y="176" width="5" height="7" fill="#000"/>
<rect x="852" y="177" width="3" height="5" fill="#00ff00"/>
<rect x="861" y="154" width="1" height="33" fill="#000"/>
<rect x="859" y="179" width="5" height="8" fill="#000"/>
<rect x="860" y="180" width="3" height="6" fill="#ff0000"/>
<rect x="869" y="159" width="1" height="30" fill="#000"/>
<rect x="867" y="162" width="5" height="23" fill="#000"/>
<rect x="868" y="163" width="3" height="21" fill="#00ff00"/>
<rect x="877" y="135" width="1" height="57" fill="#000"/>
<rect x="875" y="165" width="5" height="26" fill="#000"/>
<rect x="876" y="166" width="3" height="24" fill="#ff0000"/>
<rect x="885" y="123" width="1" height="69" fill="#000"/>
<rect x="883" y="129" width="5" height="58" fill="#000"/>
<rect x="884" y="130" width="3" height="56" fill="#00ff00"/>
<rect x="893" y="126" width="1" height="26" fill="#000"/>
<rect x="891" y="129" width="5" height="9" fill="#000"/>
<rect x="892" y="130" width="3" height="7" fill="#ff0000"/>
<rect x="901" y="107" width="1" height="37" fill="#000"/>
<rect x="899" y="115" width="5" height="23" fill="#000"/>
<rect x="900" y="116" width="3" height="21" fill="#00ff00"/>
<rect x="909" y="89" width="1" height="31" fill="#000"/>
<rect x="907" y="98" width="5" height="18" fill="#000"/>
<rect x="908" y="99" width="3" height="16" fill="#00ff00"/>
<rect x="917" y="81" width="1" height="28" fill="#000"/>
<rect x="915" y="85" width="5" height="13" fill="#000"/>
<rect x="916" y="86" width="3" height="11" fill="#00ff00"/>
<rect x="925" y="48" width="1" height="44" fill="#000"/>
<rect x="923" y="51" width="5" height="36" fill="#000"/>
<rect x="924" y="52" width="3" height="34" fill="#00ff00"/>
<rect x="933" y="38" width="1" height="43" fill="#000"/>
<rect x="931" y="59" width="5" height="21" fill="#000"/>
<rect x="932" y="60" width="3" height="19" fill="#ff0000"/>
<rect x="941" y="60" width="1" height="33" fill="#000"/>
<rect x="939" y="76" width="5" height="15" fill="#000"/>
<rect x="940" y="77" width="3" height="13" fill="#ff0000"/>
<rect x="949" y="88" width="1" height="96" fill="#000"/>
<rect x="947" y="92" width="5" height="87" fill="#000"/>
<rect x="948" y="93" width="3" height="85" fill="#ff0000"/>
<rect x="957" y="149" width="1" height="34" fill="#000"/>
<rect x="955" y="160" width="5" height="20" fill="#000"/>
<rect x="956" y="161" width="3" height="18" fill="#00ff00"/>
<rect x="965" y="165" width="1" height="27" fill="#000"/>
<rect x="963" y="171" width="5" height="1" fill="#000"/>
<rect x="973" y="124" width="1" height="52" fill="#000"/>
<rect x="971" y="127" width="5" height="46" fill="#000"/>
<rect x="972" y="128" width="3" height="44" fill="#00ff00"/>
<rect x="981" y="113" width="1" height="43" fill="#000"/>
<rect x="979" y="135" width="5" height="14" fill="#000"/>
<rect x="980" y="136" width="3" height="12" fill="#ff0000"/>
<rect x="5" y="121" width="1239" height="1" fill="#ff0000"/>
<rect x="5" y="176" width="1239" height="1" fill="#ff0000"/>
<rect x="5" y="312" width="1239" height="1" fill="#ff0000"/>
<rect x="1245" y="37" width="2" height="1" fill="#000"/>
<rect x="1245" y="70" width="2" height="1" fill="#000"/>
<rect x="1245" y="103" width="2" height="1" fill="#000"/>
<rect x="1245" y="136" width="2" height="1" fill="#000"/>
<rect x="1245" y="169" width="2" height="1" fill="#000"/>
<rect x="1245" y="202" width="2" height="1" fill="#000"/>
<rect x="1245" y="235" width="2" height="1" fill="#000"/>
<rect x="1245" y="268" width="2" height="1" fill="#000"/>
<rect x="1245" y="301" width="2" height="1" fill="#000"/>
<rect x="1245" y="334" width="2" height="1" fill="#000"/>
<rect x="1245" y="367" width="2" height="1" fill="#000"/>
<rect x="1245" y="400" width="2" height="1" fill="#000"/>
<rect x="1245" y="433" width="2" height="1" fill="#000"/>
<rect x="1245" y="466" width="2" height="1" fill="#000"/>
<rect x="1245" y="499" width="2" height="1" fill="#000"/>
<rect x="1245" y="532" width="2" height="1" fill="#000"/>
<rect x="1245" y="565" width="2" height="1" fill="#000"/>
<rect x="1245" y="598" width="2" height="1" fill="#000"/>
<rect x="1245" y="631" width="2" height="1" fill="#000"/>
<rect x="1245" y="664" width="2" height="1" fill="#000"/>
<rect x="1245" y="697" width="2" height="1" fill="#000"/>
<rect x="5" y="701" width="1" height="3" fill="#000"/>
<rect x="69" y="701" width="1" height="3" fill="#000"/>
<rect x="133" y="701" width="1" height="3" fill="#000"/>
<rect x="197" y="701" width="1" height="3" fill="#000"/>
<rect x="261" y="701" width="1" height="3" fill="#000"/>
<rect x="325" y="701" width="1" height="3" fill="#000"/>
<rect x="389" y="701" width="1" height="3" fill="#000"/>
<rect x="453" y="701" width="1" height="3" fill="#000"/>
<rect x="517" y="701" width="1" height="3" fill="#000"/>
<rect x="581" y="701" width="1" height="3" fill="#000"/>
<rect x="645" y="701" width="1" height="3" fill="#000"/>
<rect x="709" y="701" width="1" height="3" fill="#000"/>
<rect x="773" y="701" width="1" height="3" fill="#000"/>
<rect x="837" y="701" width="1" height="3" fill="#000"/>
<rect x="901" y="701" width="1" height="3" fill="#000"/>
<rect x="965" y="701" width="1" height="3" fill="#000"/>
</g>
<g>
<text x="1250" y="41">0.93085</text><text x="1250" y="74">0.91895</text><text x="1250" y="107">0.90670</text><text x="1250" y="140">0.89445</text><text x="1250" y="173">0.88255</text><text x="1250" y="206">0.87030</text><text x="1250" y="239">0.85805</text><text x="1250" y="272">0.84615</text><text x="1250" y="305">0.83390</text><text x="1250" y="338">0.82200</text><text x="1250" y="371">0.80975</text><text x="1250" y="404">0.79750</text><text x="1250" y="437">0.78560</text><text x="1250" y="470">0.77335</text><text x="1250" y="503">0.76110</text><text x="1250" y="536">0.74920</text><text x="1250" y="569">0.73695</text><text x="1250" y="602">0.72470</text><text x="1250" y="635">0.71280</text><text x="1250" y="668">0.70055</text><text x="1250" y="701">0.68865</text><text x="4" y="713">7 Jun 2015</text><text x="68" y="713">2 Aug 2015</text><text x="132" y="713">27 Sep 2015</text><text x="196" y="713">22 Nov 2015</text><text x="260" y="713">17 Jan 2016</text><text x="324" y="713">13 Mar 2016</text><text x="388" y="713">8 May 2016</text><text x="452" y="713">3 Jul 2016</text><text x="516" y="713">28 Aug 2016</text><text x="580" y="713">23 Oct 2016</text><text x="644" y="713">18 Dec 2016</text><text x="708" y="713">12 Feb 2017</text><text x="772" y="713">9 Apr 2017</text><text x="836" y="713">4 Jun 2017</text><text x="900" y="713">30 Jul 2017</text><text x="964" y="713">24 Sep 2017</text>
</g>
<g shape-rendering="crispEdges"><rect x="1246" y="115" width="41" height="11" fill="#ff0000"/><rect x="1246" y="143" width="41" height="11" fill="#000"/><rect x="1246" y="170" width="41" height="11" fill="#ff0000"/><rect x="1246" y="306" width="41" height="11" fill="#ff0000"/></g>
<g><text x="1250" y="124" style="fill:#fff;stroke:none">0.90000</text><text x="1250" y="152" style="fill:#fff;stroke:none">0.89029</text><text x="1250" y="179" style="fill:#fff;stroke:none">0.88000</text><text x="1250" y="315" style="fill:#fff;stroke:none">0.83000</text></g>
<g shape-rendering="crispEdges"><rect x="8" y="11" width="7" height="1"/><rect x="9" y="12" width="5" height="1"/><rect x="10" y="13" width="3" height="1"/><rect x="11" y="14" width="1" height="1"/></g><text x="20.5" y="16">EURGBP,Weekly</text><text x="98" y="16">0.89494</text><text x="134" y="16">0.90319</text><text x="170" y="16">0.88750</text><text x="206" y="16">0.89029</text>
</svg>
</body></html>
